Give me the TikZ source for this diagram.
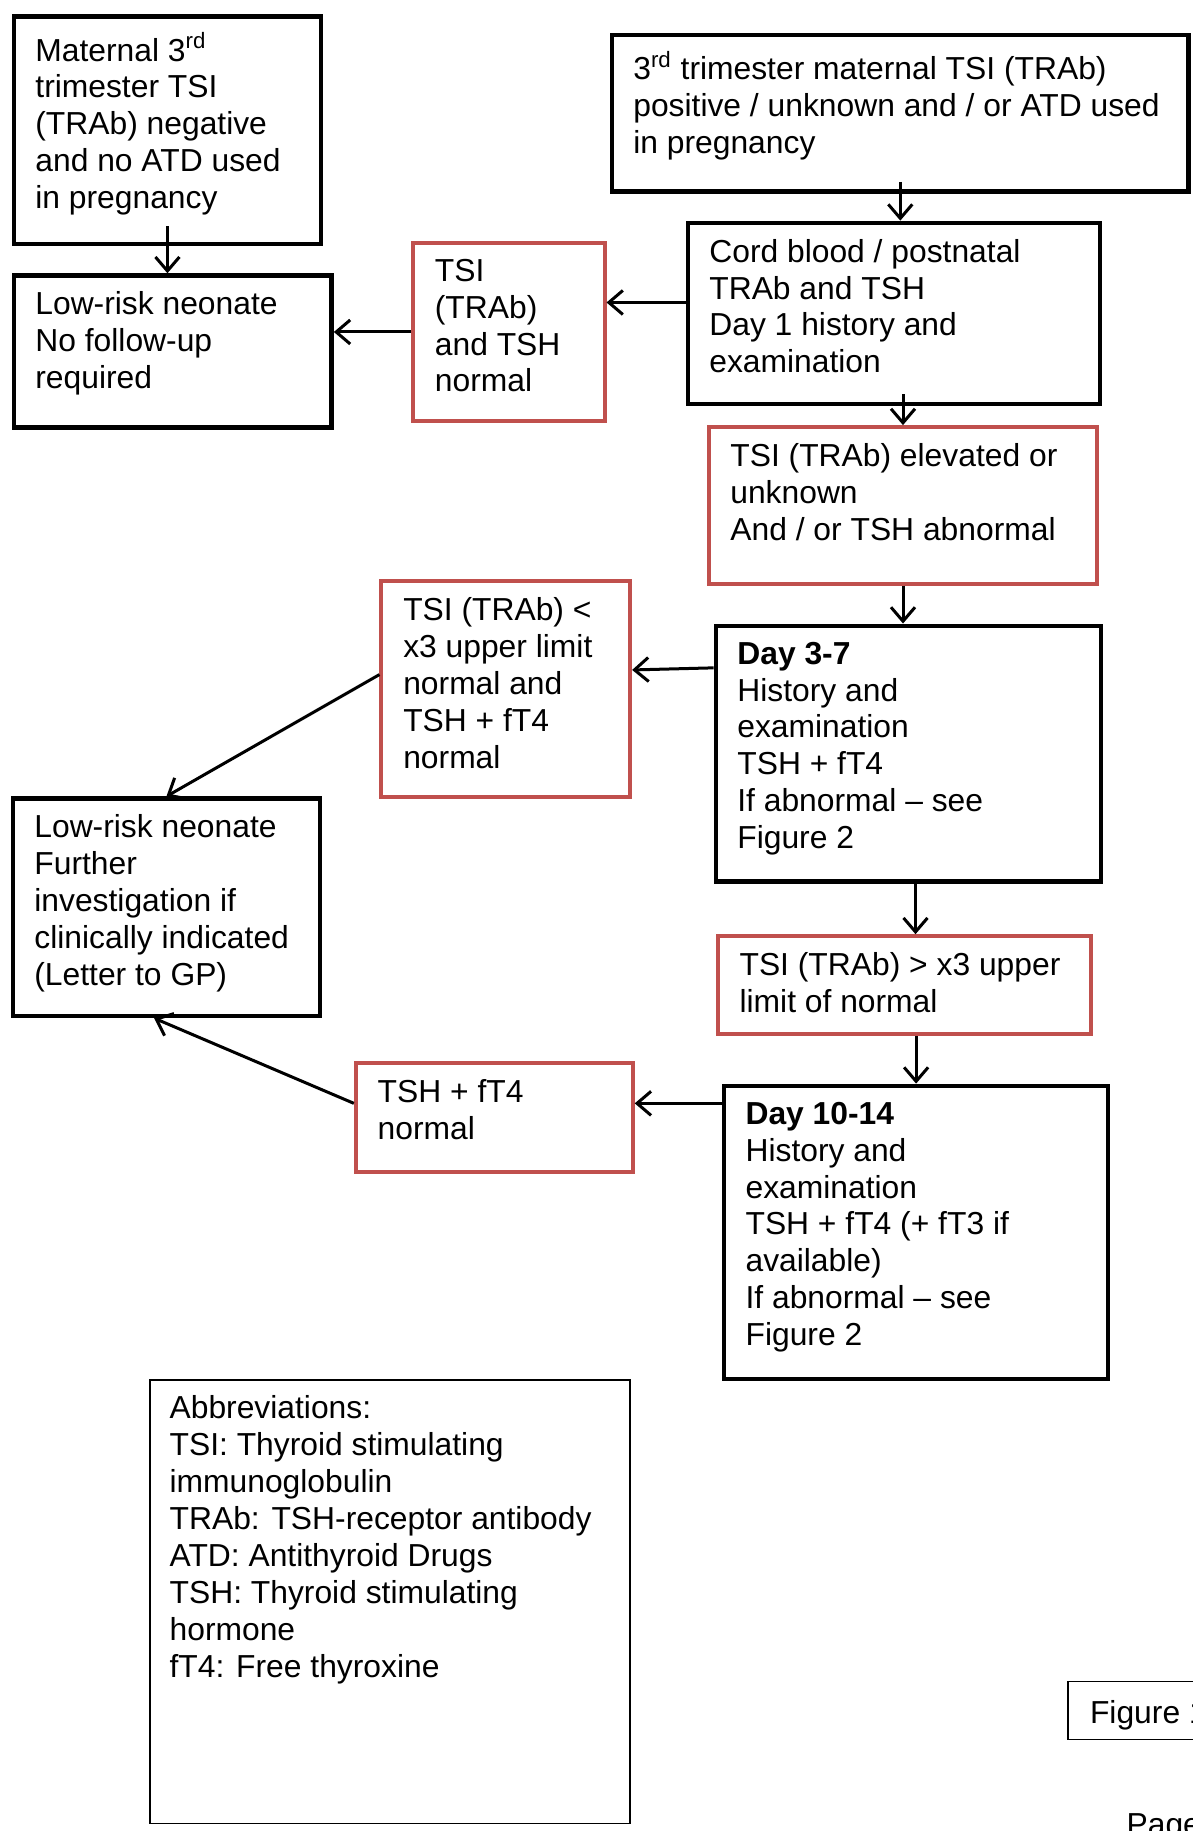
\documentclass[tikz,border=0pt]{standalone}
\usepackage{fontspec}
\setmainfont{Liberation Sans}
\usepackage{xcolor}
\usetikzlibrary{arrows.meta, calc, positioning}
\definecolor{boxred}{HTML}{C0504D}

\begin{document}
\begin{tikzpicture}[x=1pt, y=-1pt,
  blackbox/.style={draw=black, line width=2.3pt, anchor=north west, inner sep=0pt},
  redbox/.style={draw=boxred, line width=2pt, anchor=north west, inner sep=0pt},
  thinbox/.style={draw=black, line width=0.7pt, anchor=north west, inner sep=0pt},
  txt/.style={anchor=north west, align=left, inner sep=0pt, font=\fontsize{15.9pt}{18.45pt}\selectfont},
  flow/.style={->, line width=1.5pt, >={Straight Barb[length=7pt, width=12pt]}}]

\useasboundingbox (0,0) rectangle (596,915.3);

% Maternal TSI negative
\node[blackbox, minimum width=153.5pt, minimum height=113.8pt] (mat) at (5.8,7) {};
\node[txt] (mat-t) at ([shift={(11.7,9)}]mat.north west) {Maternal 3\textsuperscript{rd}\\trimester TSI\\(TRAb) negative\\and no ATD used\\in pregnancy};

% Maternal TSI positive / unknown
\node[blackbox, minimum width=288.4pt, minimum height=78.2pt] (pos) at (304.7,16.4) {};
\node[txt] (pos-t) at ([shift={(11.7,9)}]pos.north west) {3\textsuperscript{rd} trimester maternal TSI (TRAb)\\positive / unknown and / or ATD used\\in pregnancy};

% Low-risk, no follow-up
\node[blackbox, minimum width=158.8pt, minimum height=75.9pt] (low1) at (5.8,136.6) {};
\node[txt] (low1-t) at ([shift={(11.7,9)}]low1.north west) {Low-risk neonate\\No follow-up\\required};

% TSI and TSH normal
\node[redbox, minimum width=95.7pt, minimum height=89.3pt] (red1) at (205.5,120.3) {};
\node[txt] (red1-t) at ([shift={(11.7,9)}]red1.north west) {TSI\\(TRAb)\\and TSH\\normal};

% Cord blood
\node[blackbox, minimum width=206.1pt, minimum height=90.5pt] (cord) at (342.7,110.3) {};
\node[txt] (cord-t) at ([shift={(11.7,9)}]cord.north west) {Cord blood / postnatal\\TRAb and TSH\\Day 1 history and\\examination};

% TSI elevated
\node[redbox, minimum width=194.4pt, minimum height=78.2pt] (elev) at (353.2,212.5) {};
\node[txt] (elev-t) at ([shift={(11.7,9)}]elev.north west) {TSI (TRAb) elevated or\\unknown\\And / or TSH abnormal};

% TSI < x3
\node[redbox, minimum width=124.3pt, minimum height=108pt] (red2) at (189.7,289.5) {};
\node[txt] (red2-t) at ([shift={(11.7,9)}]red2.north west) {TSI (TRAb) <\\x3 upper limit\\normal and\\TSH + fT4\\normal};

% Day 3-7
\node[blackbox, minimum width=192.6pt, minimum height=127.8pt] (day37) at (356.7,311.7) {};
\node[txt] (day37-t) at ([shift={(11.7,9)}]day37.north west) {\textbf{Day 3-7}\\History and\\examination\\TSH + fT4\\If abnormal -- see\\Figure 2};

% Low-risk, further investigation
\node[blackbox, minimum width=153.5pt, minimum height=108.6pt] (low2) at (5.3,398.1) {};
\node[txt] (low2-t) at ([shift={(11.7,9)}]low2.north west) {Low-risk neonate\\Further\\investigation if\\clinically indicated\\(Letter to GP)};

% TSI > x3
\node[redbox, minimum width=186.8pt, minimum height=49pt] (red3) at (357.8,467) {};
\node[txt] (red3-t) at ([shift={(11.7,9)}]red3.north west) {TSI (TRAb) > x3 upper\\limit of normal};

% TSH + fT4 normal
\node[redbox, minimum width=138.4pt, minimum height=54.3pt] (red4) at (176.9,530.6) {};
\node[txt] (red4-t) at ([shift={(11.7,9)}]red4.north west) {TSH + fT4\\normal};

% Day 10-14
\node[blackbox, minimum width=192pt, minimum height=146.5pt] (day1014) at (360.8,541.7) {};
\node[txt] (day1014-t) at ([shift={(11.7,9)}]day1014.north west) {\textbf{Day 10-14}\\History and\\examination\\TSH + fT4 (+ fT3 if\\available)\\If abnormal -- see\\Figure 2};

% Abbreviations
\node[thinbox, minimum width=239.9pt, minimum height=221.8pt] (abbr) at (74.7,689.4) {};
\node[txt] (abbr-t) at ([shift={(9.9,8.2)}]abbr.north west) {Abbreviations:\\TSI: Thyroid stimulating\\immunoglobulin\\TRAb: TSH-receptor antibody\\ATD: Antithyroid Drugs\\TSH: Thyroid stimulating\\hormone\\fT4: Free thyroxine};

% Figure label and page footer (cut by the page edge)
\node[thinbox, minimum width=90pt, minimum height=29pt] (fig) at (533.5,840.2) {};
\node[txt] (fig-t) at ([shift={(11.2,9.4)}]fig.north west) {Figure 1};
\node[txt] (page) at (563,906.5) {Page};

% Arrows
\draw[flow] ($(pos.south)+(0,-6)$) -- (pos.south |- cord.north);
\draw[flow] ($(mat.south)+(0,-10)$) -- (mat.south |- low1.north);
\coordinate (c1) at ($(cord.west)+(0,-5.5)$);
\draw[flow] (c1) -- (c1 -| red1.east);
\draw[flow] (red1.west) -- (red1.west -| low1.east);
\coordinate (c4) at ($(elev.north |- cord.south)+(0,-6)$);
\draw[flow] (c4) -- (elev.north);
\draw[flow] (elev.south) -- (elev.south |- day37.north);
\draw[flow] ($(day37.west)+(0,-42.9)$) -- ($(red2.east)+(0,-9.6)$);
\draw[flow] ($(red2.west)+(0,-7.3)$) -- (low2.north);
\coordinate (c2) at ($(day37.south)+(3.5,0)$);
\draw[flow] (c2) -- (c2 |- red3.north);
\draw[flow] (day1014.north |- red3.south) -- (day1014.north);
\coordinate (c3) at ($(red4.east)+(0,-7.2)$);
\draw[flow] (c3 -| day1014.west) -- (c3);
\draw[flow] (c3 -| red4.west) -- ($(low2.south)+(-6.1,0)$);
\end{tikzpicture}
\end{document}
